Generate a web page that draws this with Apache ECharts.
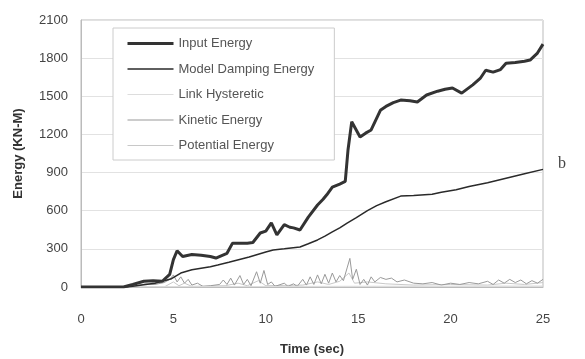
<!DOCTYPE html>
<html><head><meta charset="utf-8">
<script src="https://cdn.jsdelivr.net/npm/echarts@6/dist/echarts.min.js"></script>
<style>html,body{margin:0;padding:0;background:#fff}#c{width:585px;height:359px}</style>
</head><body><div id="c"></div>
<script>
const xTicks = [0, 5, 10, 15, 20, 25];
const yTicks = [0, 300, 600, 900, 1200, 1500, 1800, 2100];
const seriesNames = ["Input Energy", "Model Damping Energy", "Link Hysteretic", "Kinetic Energy", "Potential Energy"];

const inputEnergy = [[0,0],[2.3,0],[2.8,20],[3.4,45],[3.9,50],[4.4,45],[4.8,100],[5.0,215],[5.2,285],[5.5,240],[6.0,255],[6.5,250],[7.0,240],[7.3,228],[7.9,265],[8.2,345],[9.0,345],[9.3,350],[9.7,425],[10.0,440],[10.3,505],[10.6,410],[11.0,490],[11.3,470],[11.5,465],[11.85,448],[12.3,550],[12.8,645],[13.1,690],[13.3,725],[13.6,785],[14.0,810],[14.3,830],[14.45,1080],[14.65,1300],[15.1,1180],[15.4,1210],[15.7,1235],[16.2,1390],[16.5,1420],[16.9,1450],[17.3,1470],[17.8,1465],[18.2,1455],[18.7,1510],[19.3,1540],[19.7,1555],[20.1,1565],[20.6,1525],[21.2,1590],[21.6,1640],[21.9,1705],[22.3,1690],[22.7,1710],[23.0,1760],[23.5,1765],[24.0,1775],[24.3,1785],[24.7,1840],[25.0,1910]];

const dampingEnergy = [[0,0],[2.5,0],[3,10],[4,30],[4.9,65],[5.4,110],[6,135],[7,160],[7.4,173],[8,195],[9.1,236],[10,275],[10.4,291],[11,300],[11.85,315],[12.3,340],[12.8,370],[13.2,400],[13.6,433],[14,465],[14.4,503],[14.9,545],[15.5,600],[16,640],[16.5,670],[17.3,715],[18,720],[19,730],[19.5,745],[20.3,765],[21,790],[22,820],[23,855],[24,890],[25,925]];

const linkHysteretic = [[0,0],[5,2],[10,4],[15,6],[20,7],[25,8]];

const kineticEnergy = [[0,0],[2.5,0],[3,10],[3.5,25],[4,20],[4.5,35],[4.8,60],[5.0,95],[5.2,40],[5.4,80],[5.6,30],[5.8,60],[6.0,15],[6.3,30],[6.6,5],[7,10],[7.5,20],[7.7,55],[7.9,20],[8.1,70],[8.3,15],[8.6,90],[8.8,20],[9.0,60],[9.2,10],[9.5,120],[9.7,30],[9.9,130],[10.1,20],[10.3,40],[10.5,5],[11,30],[11.2,5],[11.5,25],[11.7,5],[12.0,60],[12.2,15],[12.4,80],[12.6,20],[12.8,95],[13.0,25],[13.2,100],[13.4,30],[13.6,110],[13.8,40],[14.0,90],[14.2,50],[14.4,150],[14.55,225],[14.7,60],[14.9,140],[15.1,20],[15.3,60],[15.5,15],[15.7,80],[15.9,40],[16.2,75],[16.5,60],[16.8,70],[17.1,40],[17.5,55],[18,30],[18.5,25],[19,35],[19.5,15],[20,30],[20.5,20],[21,35],[21.5,25],[22,45],[22.3,20],[22.6,55],[22.9,30],[23.2,60],[23.5,35],[23.8,55],[24.1,25],[24.4,50],[24.7,30],[25,60]];

const potentialEnergy = [[0,0],[4.5,0],[5,40],[5.3,10],[5.6,30],[6,5],[7.8,10],[8.5,30],[9,10],[9.6,50],[10,10],[12,15],[12.8,40],[13.4,20],[14,45],[14.5,110],[14.8,30],[15.5,40],[16.5,25],[18,15],[20,20],[22,15],[23,30],[24,20],[25,35]];

const seriesData = [inputEnergy, dampingEnergy, linkHysteretic, kineticEnergy, potentialEnergy];
const seriesColors = ["#333333", "#2a2a2a", "#dddddd", "#999999", "#c8c8c8"];
const seriesWidths = [3, 1.5, 1, 1, 1];

const chart = echarts.init(document.getElementById('c'), null, {renderer: 'canvas'});
const font = 'Liberation Sans, Arial, sans-serif';
chart.setOption({
  animation: false,
  backgroundColor: '#fff',
  grid: {left: 81, right: 42, top: 20, bottom: 72, show: true, borderColor: '#bbb', borderWidth: 1, backgroundColor: 'transparent', containLabel: false, outerBoundsMode: 'none'},
  xAxis: {
    type: 'value', min: xTicks[0], max: xTicks[xTicks.length-1], interval: 5,
    name: 'Time (sec)', nameLocation: 'middle', nameGap: 56,
    nameTextStyle: {fontFamily: font, fontSize: 13, color: '#333', fontWeight: 'bold'},
    axisLine: {show: true, lineStyle: {color: '#bbb'}},
    axisTick: {show: false},
    axisLabel: {fontFamily: font, fontSize: 13, color: '#444', margin: 26, formatter: v => String(v)},
    splitLine: {show: false}
  },
  yAxis: {
    type: 'value', min: yTicks[0], max: yTicks[yTicks.length-1], interval: 300,
    name: 'Energy (KN-M)', nameLocation: 'middle', nameGap: 56,
    nameTextStyle: {fontFamily: font, fontSize: 13, color: '#333', fontWeight: 'bold'},
    axisLine: {show: true, lineStyle: {color: '#bbb'}},
    axisTick: {show: false},
    axisLabel: {fontFamily: font, fontSize: 13, color: '#444', margin: 13, formatter: v => String(v)},
    splitLine: {show: true, lineStyle: {color: '#e2e2e2', width: 1}}
  },
  legend: {
    orient: 'vertical', left: 113, top: 28,
    padding: [9, 20, 8, 13], itemGap: 12.5, itemWidth: 46, itemHeight: 14,
    backgroundColor: '#fff', borderColor: '#ccc', borderWidth: 1,
    itemStyle: {color: 'transparent', borderColor: 'transparent', borderWidth: 0, opacity: 0},
    textStyle: {fontFamily: font, fontSize: 13, color: '#555'},
    data: seriesNames.map((n, i) => ({name: n, lineStyle: {width: seriesWidths[i], color: seriesColors[i]}}))
  },
  graphic: [{type: 'text', left: 558, top: 156, style: {text: 'b', font: '16px "Liberation Serif", serif', fill: '#444'}}],
  series: seriesNames.map((n, i) => ({
    name: n, type: 'line', data: seriesData[i], symbol: 'none', showSymbol: false,
    lineStyle: {color: seriesColors[i], width: seriesWidths[i]},
    itemStyle: {color: seriesColors[i]},
    z: 10 - i
  }))
});
</script></body></html>
